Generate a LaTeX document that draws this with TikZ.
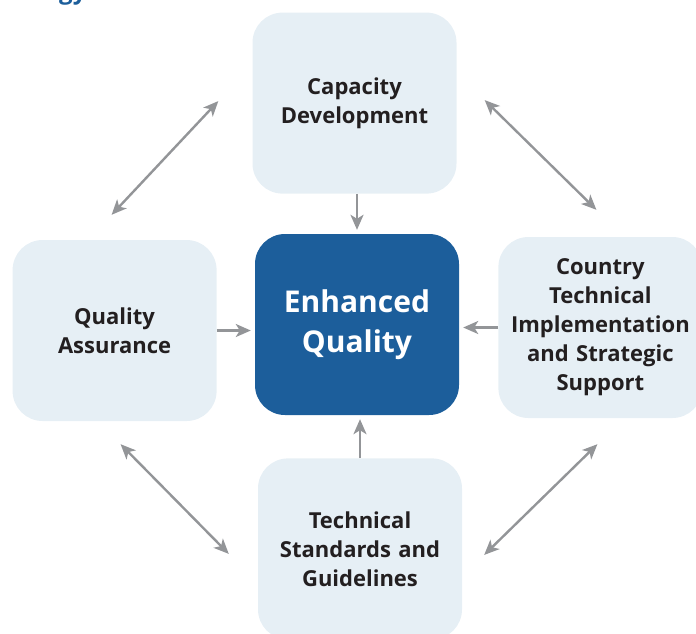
\documentclass[tikz,border=0pt]{standalone}
\usepackage{fontspec}
\setmainfont{Open Sans}
\usetikzlibrary{positioning,arrows.meta}
\definecolor{boxfill}{HTML}{E6EFF5}
\definecolor{coreblue}{HTML}{1C5E9B}
\definecolor{arrowgray}{HTML}{939598}
\definecolor{textdark}{HTML}{231F20}

\begin{document}
\begin{tikzpicture}[>={Stealth[length=15pt,width=13pt,inset=4pt]},node distance=40pt,
    link/.style={->,draw=arrowgray,line width=2.4pt,shorten >=4pt},
    twoway/.style={<->,draw=arrowgray,line width=2.4pt},
    area box/.style={rectangle,rounded corners=30pt,fill=boxfill,minimum width=204pt,minimum height=181pt,inner sep=0pt,text width=196pt,align=center,font=\bfseries\fontsize{22}{29}\selectfont,text=textdark},
    core box/.style={area box,fill=coreblue,text=white,font=\bfseries\fontsize{30}{40}\selectfont}]
  \useasboundingbox (0,0) rectangle (696pt,-633pt);
  \clip (0,0) rectangle (696pt,-633pt);

  \node[anchor=base west,text=coreblue,font=\bfseries\fontsize{24}{28}\selectfont,inner sep=0pt] (title) at (59pt,1pt) {gy};

  \node[core box] (eq) at (357pt,-324.5pt) {Enhanced\\Quality};
  \node[area box] (cap) [above=40pt of eq,xshift=-2.5pt] {Capacity\\Development};
  \node[area box] (qa) [left=38pt of eq,yshift=-6pt] {Quality\\Assurance};
  \node[area box] (ctry) [right=39pt of eq,yshift=-3pt] {Country\\Technical\\Implementation\\and Strategic\\Support};
  \node[area box] (tsg) [below=43pt of eq,xshift=3pt] {Technical\\Standards and\\Guidelines};

  % into the centre
  \draw[link] (cap.south -| eq.north) -- (eq.north);
  \draw[link] (qa.east) -- (qa.east -| eq.west);
  \draw[link] (ctry.west) -- (ctry.west -| eq.east);
  \draw[link] (tsg.north) -- (tsg.north |- eq.south);

  % round the outside
  \draw[twoway] ([shift={(-3pt,25pt)}]qa.north) -- ([shift={(-34pt,2pt)}]cap.west);
  \draw[twoway] ([shift={(28pt,3pt)}]cap.east) -- ([shift={(-4pt,27pt)}]ctry.north);
  \draw[twoway] ([shift={(6pt,-23pt)}]qa.south) -- ([shift={(-29pt,-5pt)}]tsg.west);
  \draw[twoway] ([shift={(22pt,-6pt)}]tsg.east) -- ([shift={(-3pt,-26pt)}]ctry.south);
\end{tikzpicture}
\end{document}
